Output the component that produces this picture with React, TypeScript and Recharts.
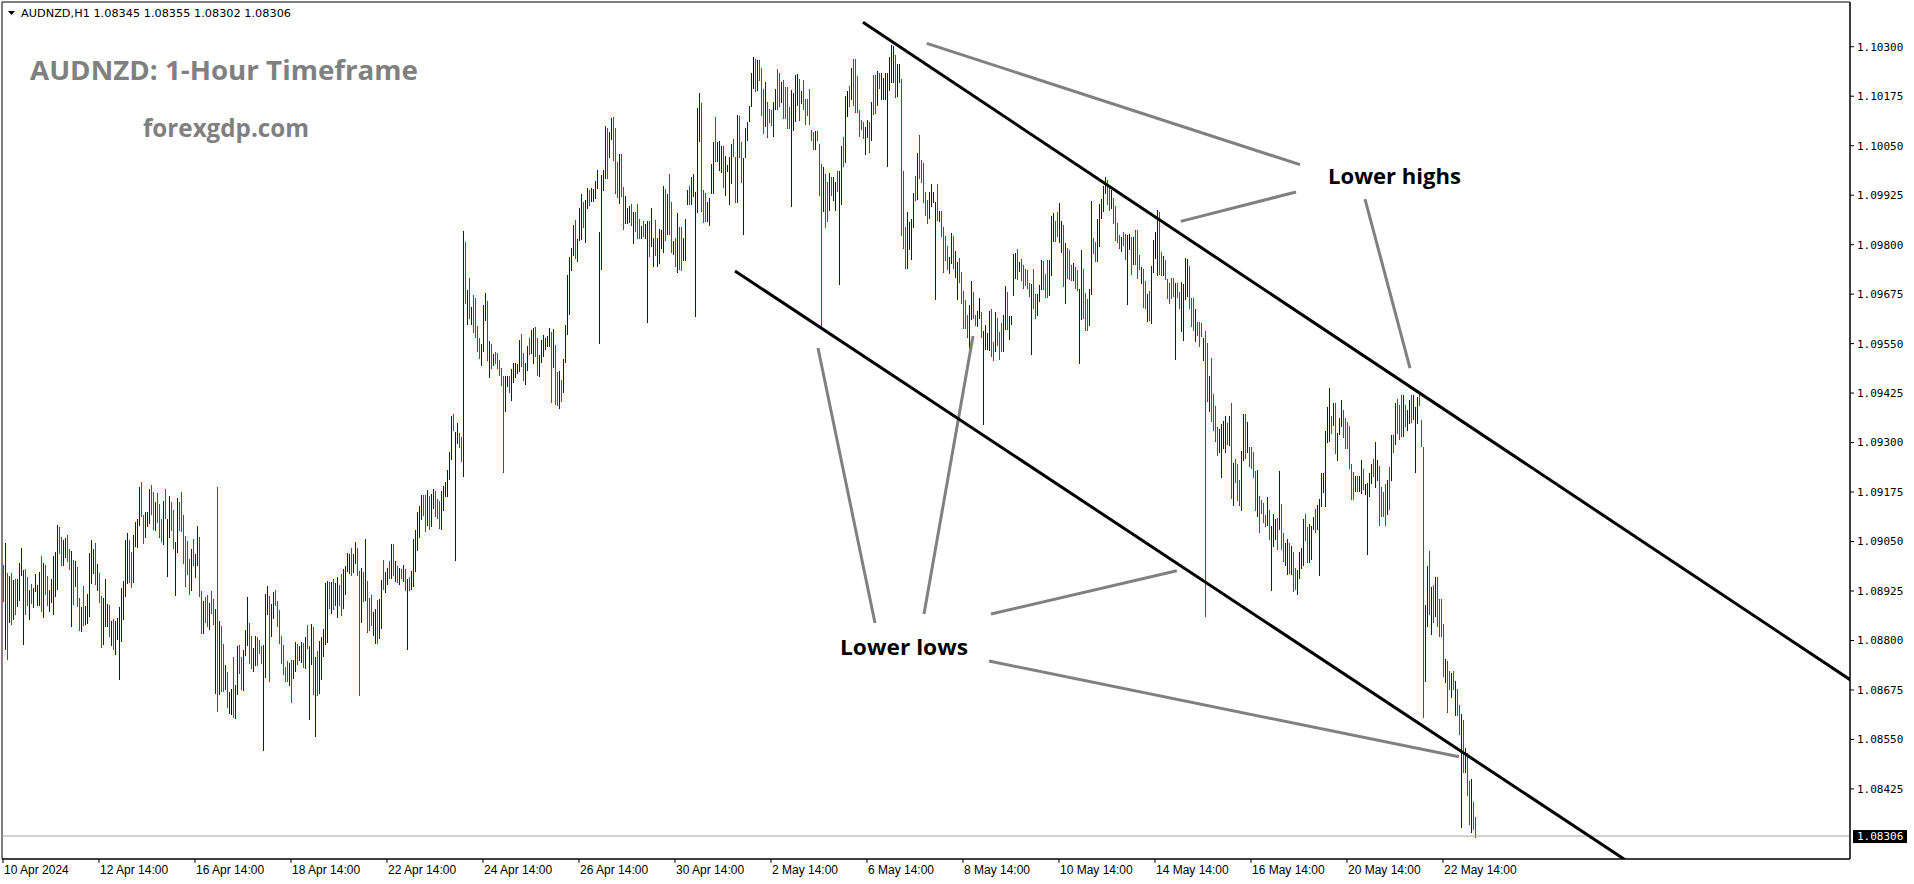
import React from 'react';
import { ComposedChart, Bar, XAxis, YAxis, ReferenceLine, ReferenceArea } from 'recharts';

// AUDNZD H1, one entry per hourly bar starting 10 Apr 2024 14:00.
// Prices are kept in points above 1.08000 (1425 -> 1.09425).
const BASE = 1.08;

const highs = [
  // 10 Apr - 16 Apr
  991, 1046, 970, 963, 970, 953, 955, 955, 995, 1033, 978, 981, 960, 928, 942, 932, 968, 940, 973, 1013,
  995, 990, 963, 928, 955, 1013, 1024, 1092, 1086, 1061, 1054, 1058, 1066, 1030, 1026, 1003, 1001, 986, 907, 885,
  938, 887, 917, 1021, 1054, 1031, 1046, 993, 971, 912, 907, 955, 891, 890, 849, 854, 849, 857, 885, 933,
  950, 1054, 1072, 1054, 1024, 1066, 1099, 1107, 1188, 1200, 1117, 1125, 1125, 1183, 1193, 1175, 1150, 1173, 1145, 1107,
  1152, 1183, 1107, 1165, 1150, 1130, 1049, 1160, 1150, 1175, 1117, 1064, 1051, 1006, 1031, 1056, 1019, 1089, 1061, 925,
  900, 910, 915, 894, 925, 905, 880, 1188, 849,
  // 16 Apr - 22 Apr
  837, 792, 739, 721, 671, 678, 759, 688, 786, 789, 759,
  776, 827, 910, 845, 812, 781, 811, 809, 801, 786, 789, 918, 938, 913, 892, 923, 928, 900, 877, 811,
  789, 734, 747, 744, 751, 751, 796, 791, 786, 796, 794, 809, 839, 786, 842, 834, 759, 774, 799, 809,
  829, 945, 950, 948, 948, 956, 945, 961, 939, 968, 981, 988, 1021, 1018, 1034, 1018, 1049, 1033, 975, 982,
  974, 1057, 950, 907, 915, 873, 880, 902, 905, 953, 1003, 973, 983, 1001, 1044, 1044, 1001, 988, 984, 981,
  991, 980, 955, 961, 976, 1057, 1078, 1125, 1140, 1168, 1168, 1168, 1180, 1165, 1170, 1183,
  // 23 Apr - 29 Apr
  1178, 1158, 1153, 1178, 1190, 1201, 1231, 1276, 1367, 1372, 1327, 1350, 1324, 1313, 1835, 1807, 1686, 1716, 1643, 1673,
  1666, 1595, 1565, 1549, 1648, 1678, 1658, 1557, 1549, 1524, 1529, 1526, 1509, 1488, 1468, 1468, 1467, 1468, 1486, 1500,
  1502, 1499, 1559, 1574, 1527, 1502, 1544, 1564, 1584, 1590, 1592, 1565, 1522, 1559, 1572, 1564, 1569, 1590, 1579, 1587,
  1547, 1479, 1481, 1458, 1511, 1597, 1723, 1769, 1792, 1850, 1862, 1814,
  1893, 1928, 1908, 1913, 1943, 1938, 1943, 1941, 1961, 1989, 1832, 1976, 1989, 2100, 2095, 2085, 2120, 2123, 2095, 2009,
  2029, 2029, 1946, 1923, 1893, 1898, 1903, 1883,
  // 30 Apr - 6 May
  1883, 1903, 1865, 1847, 1860, 1852, 1860, 1860, 1893, 1816, 1862, 1816, 1840, 1837, 1947, 1941, 1928, 1979, 1908, 1808,
  1817, 1880, 1845, 1845, 1817, 1865, 1938, 1949, 1971, 1979, 1933, 2144, 2182, 2158, 1938, 1930, 1907, 1918, 2004, 2059,
  2123, 2059, 2063, 2049, 2049, 2024, 2000, 2022, 2054, 2067, 2022, 2128, 2125, 2059, 2020, 2095, 2110, 2151, 2234, 2275,
  2269, 2267, 2267, 2246, 2193, 2211, 2160, 2143, 2140, 2160, 2193, 2245, 2233, 2211, 2216, 2199, 2199, 2149, 2191, 2182,
  2229, 2231, 2219, 2189, 2217, 2168, 2168, 2193, 2090, 2085, 2087, 2087, 2054, 2004, 1996, 1979, 1958, 1980, 1972, 1970,
  1959, 1987, 1987, 2049, 2071,
  // 6 May - 10 May
  2176, 2188, 2201, 2246, 2269, 2269, 2227, 2140, 2115, 2111, 2098, 2115, 2110, 2160, 2229, 2229, 2239, 2233, 2233, 2221,
  2233, 2233, 2275, 2304, 2302, 2279, 2256, 2256, 2218, 1986, 1845, 1883, 1857, 1866, 1931, 1973, 2032, 2077, 2015, 2007,
  1933, 1913, 1934, 1953, 1934, 1907, 1953, 1885, 1885, 1845, 1823, 1797, 1770, 1830, 1823, 1785, 1755, 1766, 1732, 1682,
  1660, 1622, 1648, 1708, 1680, 1623, 1632, 1666, 1630, 1582, 1597, 1578, 1632, 1637, 1555, 1630, 1615, 1580, 1603, 1623,
  1696, 1680, 1621, 1621, 1776, 1780, 1788, 1755, 1764, 1749, 1739, 1736, 1702, 1701, 1738, 1675, 1675, 1698, 1761, 1759,
  1726, 1761, 1761, 1872, 1879, 1861, 1882, 1904, 1860, 1850,
  // 10 May - 17 May
  1804, 1792, 1787, 1749, 1753, 1743, 1736, 1688, 1787, 1739, 1677, 1663, 1688, 1910, 1816, 1807, 1864, 1903, 1915, 1948,
  1970, 1963, 1951, 1938, 1917, 1898, 1854, 1824, 1819, 1832, 1826, 1824, 1827, 1819, 1819, 1836, 1836, 1774, 1744, 1739,
  1709, 1675, 1684, 1746, 1812, 1833, 1888, 1883, 1782, 1772, 1760, 1713, 1703, 1715, 1717, 1704, 1703, 1680, 1706, 1701,
  1766, 1765, 1745, 1665, 1665, 1638, 1605, 1604, 1601, 1565, 1582, 1552, 1468, 1514, 1423, 1392, 1340, 1334, 1347, 1355,
  1366, 1349, 1367, 1399, 1248, 1258, 1246, 1206, 1278, 1371, 1371, 1351, 1290, 1290, 1276, 1229, 1231, 1165, 1155, 1147,
  1118, 1162, 1130, 1088, 1120,
  // 20 May - 23 May
  1107, 1110, 1228, 1145, 1072, 1047, 1056, 1046, 1039, 1024, 982, 979, 1023, 1033, 1107, 1120, 1086, 1094, 1090, 1113,
  1132, 1142, 1158, 1222, 1222, 1328, 1391, 1438, 1366, 1400, 1400, 1324, 1362, 1408, 1382, 1362, 1353, 1342, 1246, 1226,
  1216, 1216, 1216, 1256, 1234, 1196, 1197, 1222, 1246, 1259, 1301, 1256, 1241, 1188, 1174, 1195, 1206, 1239, 1319, 1320,
  1401, 1409, 1395, 1420, 1420, 1395, 1382, 1408, 1420, 1420, 1390, 1416, 1429, 1357, 1288, 890, 987, 1025, 936, 940,
  961, 961, 904, 904, 842, 753, 747, 723, 717, 723, 698, 678, 637, 614, 598, 528, 515, 444, 449, 393, 355,
];

const lows = [
  898, 776, 751, 843, 839, 852, 864, 885, 900, 963, 789, 864, 887, 852, 892, 883, 923, 887, 887, 872,
  858, 915, 887, 872, 894, 864, 911, 928, 1019, 987, 989, 1008, 998, 978, 835, 890, 936, 885, 824, 822,
  837, 840, 842, 860, 943, 968, 940, 926, 895, 782, 789, 835, 835, 810, 787, 776, 764, 802, 699, 795,
  853, 911, 943, 946, 933, 945, 1036, 1034, 1088, 1113, 1044, 1059, 1087, 1094, 1117, 1079, 1077, 1096, 1059, 1049,
  1041, 1107, 961, 1059, 1077, 1032, 913, 1021, 1077, 1074, 994, 935, 966, 916, 925, 989, 958, 987, 911, 817,
  817, 843, 835, 827, 868, 840, 666, 620, 662,
  671, 671, 675, 630, 614, 612, 605, 602, 662, 716, 675,
  673, 761, 786, 741, 728, 721, 736, 736, 766, 741, 522, 705, 865, 694, 810, 855, 886, 835, 790, 741,
  713, 696, 694, 684, 643, 702, 721, 737, 749, 744, 730, 729, 779, 598, 738, 663, 555, 660, 665, 699,
  759, 789, 794, 879, 868, 878, 888, 857, 888, 863, 879, 916, 974, 968, 964, 970, 993, 964, 660, 843,
  897, 899, 820, 824, 837, 812, 790, 790, 805, 828, 928, 921, 939, 956, 956, 963, 949, 944, 941, 955,
  949, 926, 777, 924, 928, 934, 972, 1025, 1060, 1105, 1115, 1075, 1090, 1079, 1086, 1132,
  1113, 1108, 1082, 1079, 1128, 1163, 1163, 1206, 1257, 1330, 1002, 1297, 1287, 1252, 1214, 1651, 1598, 1613, 1598, 1578,
  1563, 1530, 1512, 1494, 1530, 1606, 1507, 1462, 1487, 1494, 1498, 1487, 1467, 1444, 1222, 1378, 1440, 1426, 1406, 1451,
  1462, 1474, 1479, 1492, 1456, 1446, 1482, 1522, 1524, 1499, 1515, 1467, 1465, 1502, 1515, 1534, 1542, 1542, 1401, 1489,
  1394, 1393, 1386, 1403, 1426, 1502, 1573, 1623, 1734, 1772, 1765, 1756,
  1810, 1812, 1842, 1805, 1891, 1898, 1908, 1909, 1916, 1941, 1550, 1737, 1936, 1966, 1966, 2019, 2064, 2011, 1928, 1918,
  1903, 1921, 1837, 1852, 1852, 1855, 1847, 1802,
  1833, 1814, 1814, 1814, 1820, 1814, 1601, 1770, 1795, 1744, 1771, 1744, 1751, 1788, 1778, 1809, 1824, 1824, 1778, 1774,
  1744, 1729, 1736, 1734, 1759, 1759, 1899, 1899, 1900, 1921, 1616, 1879, 2060, 1883, 1854, 1858, 1857, 1846, 1927, 1928,
  2010, 2009, 1986, 1982, 1944, 1924, 1984, 1899, 1952, 2021, 1906, 1906, 2018, 1957, 1825, 2020, 2061, 2111, 2149, 2193,
  2186, 2187, 2214, 2126, 2080, 2096, 2070, 2108, 2101, 2072, 2139, 2140, 2149, 2159, 2118, 2117, 2093, 2093, 1894, 2086,
  2111, 2150, 2112, 2156, 2139, 2102, 2126, 2102, 2063, 2038, 2039, 2062, 1924, 1593, 1883, 1843, 1858, 1886, 1924, 1911,
  1886, 1932, 1698, 1899, 1997,
  2007, 2123, 2149, 2165, 2150, 2133, 2133, 2073, 2090, 2066, 2027, 2069, 2032, 2061, 2128, 2130, 2151, 2193, 2165, 2165,
  2165, 1997, 2189, 2209, 2209, 2170, 2174, 2209, 1822, 1789, 1739, 1739, 1787, 1760, 1842, 1910, 1913, 1967, 1955, 1905,
  1873, 1851, 1866, 1896, 1906, 1659, 1861, 1856, 1820, 1729, 1759, 1736, 1725, 1751, 1739, 1716, 1659, 1702, 1651, 1588,
  1587, 1564, 1536, 1610, 1611, 1595, 1593, 1613, 1563, 1344, 1534, 1534, 1532, 1515, 1505, 1529, 1544, 1509, 1530, 1530,
  1584, 1584, 1559, 1596, 1671, 1714, 1711, 1731, 1707, 1687, 1696, 1687, 1669, 1520, 1638, 1611, 1621, 1656, 1685, 1685,
  1666, 1666, 1671, 1721, 1807, 1806, 1820, 1803, 1779, 1694,
  1650, 1713, 1710, 1709, 1709, 1688, 1684, 1499, 1610, 1612, 1583, 1583, 1595, 1674, 1776, 1755, 1755, 1794, 1865, 1883,
  1929, 1899, 1886, 1890, 1852, 1810, 1805, 1790, 1781, 1797, 1760, 1648, 1787, 1724, 1748, 1749, 1714, 1736, 1701, 1640,
  1638, 1605, 1606, 1600, 1728, 1764, 1721, 1723, 1722, 1722, 1710, 1662, 1650, 1662, 1668, 1509, 1666, 1638, 1580, 1556,
  1659, 1667, 1637, 1593, 1582, 1555, 1570, 1541, 1566, 1506, 859, 1403, 1377, 1353, 1329, 1302, 1267, 1273, 1211, 1284,
  1273, 1293, 1291, 1158, 1141, 1199, 1153, 1141, 1126, 1254, 1259, 1273, 1239, 1232, 1210, 1128, 1113, 1072, 1120, 1096,
  1086, 1088, 1054, 926, 1035,
  1054, 1029, 1078, 1029, 999, 987, 965, 967, 965, 923, 928, 915, 955, 981, 989, 1051, 996, 997, 1004, 1079,
  1072, 1079, 964, 1138, 1173, 1138, 1300, 1301, 1322, 1343, 1270, 1254, 1318, 1340, 1312, 1285, 1285, 1232, 1155, 1155,
  1174, 1176, 1174, 1170, 1180, 1168, 1016, 1162, 1195, 1212, 1184, 1202, 1089, 1113, 1113, 1089, 1117, 1130, 1203, 1273,
  1295, 1322, 1307, 1315, 1315, 1340, 1330, 1347, 1349, 1357, 1224, 1347, 1392, 1288, 603, 696, 835, 865, 814, 843,
  860, 835, 810, 810, 709, 692, 618, 675, 654, 675, 608, 608, 560, 327, 465, 466, 406, 334, 313, 321, 302,
];

// u = bar closed up (blue), d = closed down (red), n = unchanged (black)
const dirs = [
  'dudud uduuu uddud uuuud', 'udduu uuudd uuddu duddu', 'duuuu ududd uuudu duuuu',
  'uuudd uuuud duuud duddd', 'uduud duudd ddddu duudd', 'uddud dudu',
  'ddudu nduud d', 'uuudd uuddd uuudu udddd', 'dddud uuduu duduu duduu',
  'uuudu duudd uuuud uuddu', 'duddd uuduu duudu dudud', 'ududu uuuuu ddudu u',
  'ddduu uuuud uuddu dudud', 'ddduu ududu ddddd uuduu', 'uuudd uuduu dduuu uuudu',
  'ddudu uuuuu du', 'uuduu duuuu uuuud uuddd', 'udduu udu',
  'dddud uuduu duuuu duddu', 'duddu uuduu uuudd duuuu', 'duuud uuuud duddu uuuun',
  'duddd udddu uddud ddduu', 'uudud ddddd udddu ddudu', 'uduud',
  'undud ddddd uudud duduu', 'uuuuu duudd duuuu duddd', 'dduuu ududd dduud uuddd',
  'dduud dundu uuudd udddu', 'uduuu ududd dddud duuud', 'dduuu dduud',
  'udddu dduud dduud duuuu', 'uddud dddud dundu dddud', 'duduu nuddu ddddd udduu',
  'uuddd udddu ddudd dduuu', 'ududu ddduu duddd duddd', 'duduu',
  'ududd uudud duuuu dduuu', 'duuuu uuudu duuud ddddd', 'uduud nuuud uuddd dudud',
  'udddu duudu uuddd uudud', 'udddd uddud uddud uddud d',
].join('').replace(/\s/g, '').split('');

const timeTicks = [0, 48, 96, 144, 192, 240, 288, 336, 384, 432, 480, 528, 576, 624, 672, 720];
const timeLabels = [
  '10 Apr 2024', '12 Apr 14:00', '16 Apr 14:00', '18 Apr 14:00', '22 Apr 14:00', '24 Apr 14:00',
  '26 Apr 14:00', '30 Apr 14:00', '2 May 14:00', '6 May 14:00', '8 May 14:00', '10 May 14:00',
  '14 May 14:00', '16 May 14:00', '20 May 14:00', '22 May 14:00',
];
const priceTicks = [
  1.08425, 1.0855, 1.08675, 1.088, 1.08925, 1.0905, 1.09175, 1.093,
  1.09425, 1.0955, 1.09675, 1.098, 1.09925, 1.1005, 1.10175, 1.103,
];
const lastBar = { open: 1.08345, high: 1.08355, low: 1.08302, close: 1.08306 };

// channel lines, in [bar, price] pairs
const channelLines = [
  [430, 1.103616, 940, 1.086456],
  [366, 1.097334, 900, 1.079488],
];
// grey pointer lines from the labels to the swing points
const pointerLines = [
  [461.9, 1.103086, 648.5, 1.100021],
  [588.9, 1.098589, 646.5, 1.099329],
  [681, 1.099152, 703.5, 1.094883],
  [407.5, 1.095388, 436, 1.088441],
  [485, 1.095691, 460.5, 1.088668],
  [494, 1.088668, 586.9, 1.089762],
  [493, 1.087481, 728, 1.085063],
];

const Y_MIN = 1.08248;
const Y_MAX = 1.10413;
const COLORS: Record<string, string> = { u: '#0000cd', d: '#ff0000', n: '#000000' };

const rows = highs.map((hv, i) => ({
  h: i,
  high: BASE + hv / 100000,
  low: BASE + lows[i] / 100000,
  dir: dirs[i] || 'n',
}));

const HLBar = (props: any) => {
  const { x, y, width, height, payload } = props;
  if (x == null || y == null) return null;
  const cx = Math.round(x + width / 2 - 0.5);
  const top = Math.round(Math.min(y, y + height));
  const bottom = Math.round(Math.max(y, y + height));
  return <rect x={cx} y={top} width={1} height={Math.max(1, bottom - top)} fill={COLORS[payload.dir]} />;
};

const TimeTick = (props: any) => {
  const { x, y, payload } = props;
  const label = timeLabels[timeTicks.indexOf(payload.value)];
  return (
    <text x={x + 1} y={y + 9} fontSize={12} fontFamily="Liberation Sans, Arial, sans-serif" fill="#000">
      {label}
    </text>
  );
};

const PriceTag = (props: any) => {
  const vb = props.viewBox;
  if (!vb) return null;
  const x = vb.x + vb.width;
  const y = vb.y;
  return (
    <g>
      <rect x={x + 3} y={y - 6} width={54} height={13} fill="#000" />
      <text x={x + 7} y={y + 4} fontSize={11} fontFamily="DejaVu Sans Mono" fill="#fff">
        {lastBar.close.toFixed(5)}
      </text>
    </g>
  );
};

const App = () => {
  const header = `AUDNZD,H1  ${lastBar.open.toFixed(5)} ${lastBar.high.toFixed(5)} ${lastBar.low.toFixed(5)} ${lastBar.close.toFixed(5)}`;
  return (
    <div style={{ position: 'absolute', left: 0, top: 0, width: 1914, height: 884, background: '#fff' }}>
      <ComposedChart width={1914} height={884} data={rows} margin={{ top: 2, right: 0, bottom: 0, left: 2 }}>
        <XAxis
          dataKey="h"
          type="number"
          domain={[-0.5, 923.5]}
          allowDataOverflow
          ticks={timeTicks}
          interval={0}
          tick={<TimeTick />}
          tickSize={4}
          height={25}
          axisLine={{ stroke: '#000' }}
          tickLine={{ stroke: '#000' }}
        />
        <YAxis
          orientation="right"
          type="number"
          domain={[Y_MIN, Y_MAX]}
          allowDataOverflow
          ticks={priceTicks}
          interval={0}
          width={64}
          tickSize={4}
          tickMargin={3}
          tickFormatter={(v: number) => v.toFixed(5)}
          tick={{ fontSize: 11, fontFamily: 'DejaVu Sans Mono', fill: '#000' }}
          axisLine={{ stroke: '#000' }}
          tickLine={{ stroke: '#000' }}
        />
        <ReferenceArea x1={-0.5} x2={923.5} y1={Y_MIN} y2={Y_MAX} fill="none" stroke="#000" strokeWidth={1} />
        <ReferenceLine y={lastBar.close} stroke="#a0a0a0" strokeWidth={1} label={(p: any) => <PriceTag {...p} />} />
        <Bar
          dataKey={(d: any) => [d.low, d.high]}
          shape={(p: any) => <HLBar {...p} />}
          isAnimationActive={false}
        />
        {pointerLines.map((s, i) => (
          <ReferenceLine
            key={`p${i}`}
            segment={[{ x: s[0], y: s[1] }, { x: s[2], y: s[3] }]}
            stroke="#808080"
            strokeWidth={3}
            ifOverflow="hidden"
          />
        ))}
        {channelLines.map((s, i) => (
          <ReferenceLine
            key={`c${i}`}
            segment={[{ x: s[0], y: s[1] }, { x: s[2], y: s[3] }]}
            stroke="#000"
            strokeWidth={3}
            ifOverflow="hidden"
          />
        ))}
      </ComposedChart>
      <svg
        width={1914}
        height={884}
        style={{ position: 'absolute', left: 0, top: 0, pointerEvents: 'none' }}
      >
        <polygon points="8,11 15,11 11.5,15" fill="#000" />
        <text x={21} y={17} fontSize={10} fontFamily="DejaVu Sans" fill="#000" textLength={270} lengthAdjust="spacingAndGlyphs">
          {header}
        </text>
        <text x={30} y={80} fontSize={26} fontWeight={700} fontFamily="Open Sans" fill="#808080" textLength={388} lengthAdjust="spacingAndGlyphs">
          AUDNZD: 1-Hour Timeframe
        </text>
        <text x={143} y={137} fontSize={25} fontWeight={700} fontFamily="Open Sans" fill="#808080" textLength={166} lengthAdjust="spacingAndGlyphs">
          forexgdp.com
        </text>
        <text x={1328} y={184} fontSize={21} fontWeight={700} fontFamily="Open Sans" fill="#000" textLength={133} lengthAdjust="spacingAndGlyphs">
          Lower highs
        </text>
        <text x={840} y={655} fontSize={21} fontWeight={700} fontFamily="Open Sans" fill="#000" textLength={128} lengthAdjust="spacingAndGlyphs">
          Lower lows
        </text>
      </svg>
    </div>
  );
};

export default App;
